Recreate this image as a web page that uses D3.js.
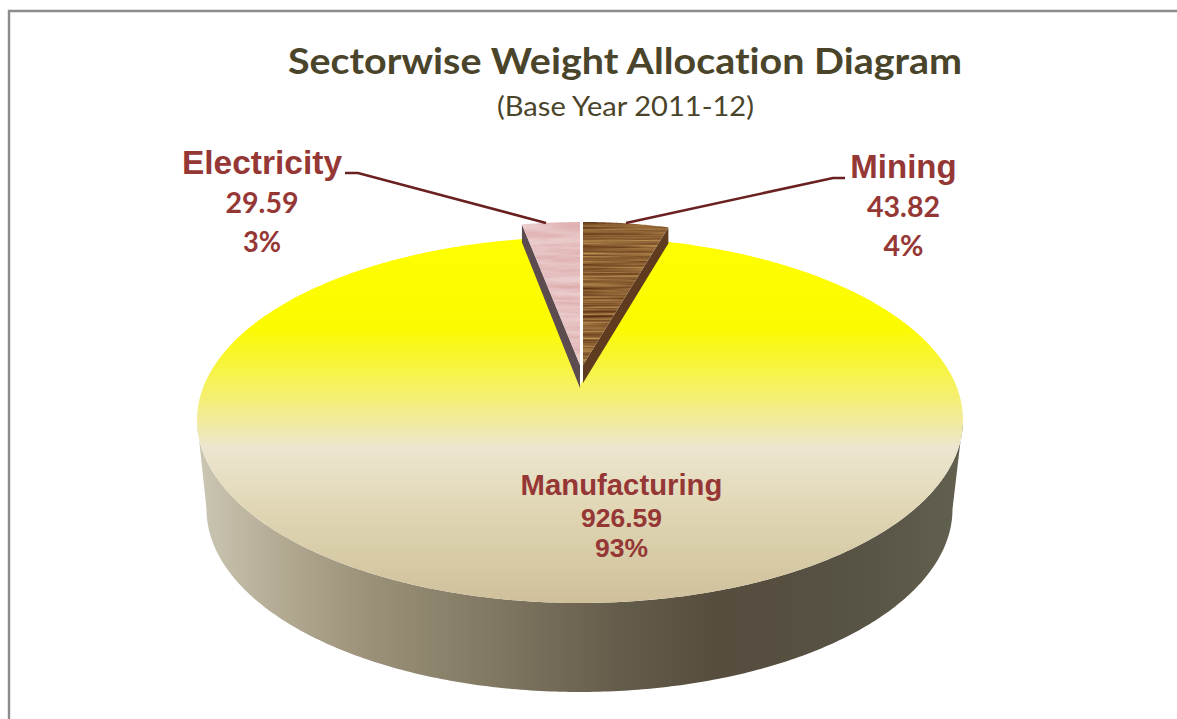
<!DOCTYPE html>
<html><head><meta charset="utf-8">
<script src="https://cdn.jsdelivr.net/npm/d3@7"></script>
<style>html,body{margin:0;padding:0;background:#fff;overflow:hidden}svg{display:block}text{font-variant-ligatures:none}</style>
</head><body><div id="chart"></div>
<script>
const categories = ["Mining","Manufacturing","Electricity"];
const weights = [43.82,926.59,29.59];
const W=1177,H=719;
const svg=d3.select("#chart").append("svg").attr("width",W).attr("height",H);
const defs=svg.append("defs");

function linGrad(id,x1,y1,x2,y2,stops){
  const g=defs.append("linearGradient").attr("id",id).attr("gradientUnits","userSpaceOnUse")
    .attr("x1",x1).attr("y1",y1).attr("x2",x2).attr("y2",y2);
  stops.forEach(s=>g.append("stop").attr("offset",s[0]).attr("stop-color",s[1]));
}
linGrad("topGrad",0,237,0,603,[[0,"#ffff00"],[0.25,"#fbfa00"],[0.43,"#f5f06e"],[0.52,"#f0eaa8"],[0.575,"#ece6d0"],[0.75,"#e0d6b4"],[1,"#cfc09a"]]);
linGrad("wallGrad",197,0,962,0,[[0,"#cbc7b4"],[0.1,"#b5ac95"],[0.22,"#9c927a"],[0.4,"#7e7660"],[0.55,"#655d4b"],[0.68,"#564d3e"],[0.85,"#565244"],[1,"#62604f"]]);

function texture(id,freq,seed,octaves,rm,gm,bm){
  const f=defs.append("filter").attr("id",id).attr("x",0).attr("y",0).attr("width",1).attr("height",1)
    .attr("color-interpolation-filters","sRGB");
  f.append("feTurbulence").attr("type","fractalNoise").attr("baseFrequency",freq).attr("numOctaves",octaves).attr("seed",seed).attr("result","n");
  f.append("feColorMatrix").attr("in","n").attr("type","matrix")
    .attr("values",`${rm[0]} 0 0 0 ${rm[1]} ${gm[0]} 0 0 0 ${gm[1]} ${bm[0]} 0 0 0 ${bm[1]} 0 0 0 0 1`).attr("result","c");
  f.append("feComposite").attr("in","c").attr("in2","SourceAlpha").attr("operator","in");
}
texture("wood","0.008 0.45",4,3,[0.6,0.25],[0.6,0.08],[0.4,0.0]);
texture("pink","0.02 0.18",7,3,[0.08,0.86],[0.2,0.65],[0.2,0.65]);

const pie=d3.pie().value(d=>d.v).sort(null).startAngle(0).endAngle(2*Math.PI);
const arcs=pie(categories.map((c,i)=>({c,v:weights[i]})));

const line=d3.line().curve(d3.curveLinear);
const body={cx:580,cy:420,rx:383,ry:183,apexY:385,notch:0.8};
const base={cx:579.5,cy:509,rx:373,ry:183};
const P=(e,a)=>[e.cx+e.rx*Math.sin(a),e.cy-e.ry*Math.cos(a)];
const sweep=(e,a0,a1,n=240)=>d3.range(n+1).map(i=>P(e,a0+(a1-a0)*i/n));

const mining=arcs[0],manu=arcs[1],elec=arcs[2];
// side wall
const wallTop=sweep(body,Math.PI/2,Math.PI*1.5);
const wallBot=sweep(base,Math.PI*1.5,Math.PI/2);
svg.append("path").attr("d",line([...wallTop,...wallBot])+"Z").attr("fill","url(#wallGrad)");

// main slice
const a0=mining.endAngle*body.notch, a1=2*Math.PI-(2*Math.PI-manu.endAngle)*body.notch;
svg.append("path").attr("d",line([[body.cx,body.apexY],...sweep(body,a0,a1,400)])+"Z").attr("fill","url(#topGrad)");

// exploded slices
const wedge={rx:314,ry:143};
function slice(d,o){
  const e={cx:o.x,cy:o.y,rx:wedge.rx,ry:wedge.ry};
  const pts=sweep(e,d.startAngle<Math.PI?d.startAngle:d.startAngle-2*Math.PI,d.endAngle<=Math.PI?d.endAngle:d.endAngle-2*Math.PI,40);
  const outer=pts[o.cornerIndex(pts)];
  const apex=[o.x,o.y];
  svg.append("path").attr("d",line([outer,apex,[apex[0],apex[1]+o.d1],[outer[0],outer[1]+o.d0]])+"Z").attr("fill",o.wall);
  svg.append("path").attr("d",line([apex,...pts])+"Z").attr("fill","#fff").attr("filter",`url(#${o.tex})`);
}
slice(elec,{x:580,y:365,d0:18,d1:23,wall:"#5c4c50",tex:"pink",cornerIndex:()=>0});
slice(mining,{x:583,y:365,d0:16,d1:18,wall:"#5f3c1f",tex:"wood",cornerIndex:p=>p.length-1});

// leader lines
const leaders=[[[345,173],[358,173],[546,223]],[[845,178],[833,178],[626,223]]];
leaders.forEach(l=>svg.append("path").attr("d",line(l)).attr("fill","none").attr("stroke","#6a2020").attr("stroke-width",2.6));

// frame
svg.append("path").attr("d","M9,719V11H1177").attr("fill","none").attr("stroke","#8c8c8c").attr("stroke-width",2.4);

// text
const T=(t,x,y,size,fam,weight,fill,len)=>{
  const s=svg.append("text").text(t).attr("x",x).attr("y",y).attr("text-anchor","middle")
  .attr("font-family",fam).attr("font-size",size).attr("font-weight",weight).attr("fill",fill);
  if(len) s.attr("textLength",len).attr("lengthAdjust","spacingAndGlyphs");
  return s;
};
const red="#953735",arial="'Liberation Sans',Arial,sans-serif",cal="Lato,'Open Sans',sans-serif";
T("Sectorwise Weight Allocation Diagram",625,74,37,cal,700,"#4a452a",674);
T("(Base Year 2011-12)",625.5,116,26,cal,400,"#4a452a",257);
const pct=d3.format(".0%"),num=d3.format(".2f");
const total=d3.sum(weights);
const placed=[
 {i:2,x:262,y:[174,213,252],s:33.5,s2:28,f2:cal,nl:73,pl:38},
 {i:0,x:903.5,y:[178,217,256],s:33,s2:28,f2:cal,nl:73,pl:40},
 {i:1,x:621.5,y:[495,527,557],s:29.3,s2:26.5,f2:arial}];
placed.forEach(p=>{
  T(categories[p.i],p.x,p.y[0],p.s,arial,700,red);
  T(num(weights[p.i]),p.x,p.y[1],p.s2,p.f2,700,red,p.nl);
  T(pct(weights[p.i]/total),p.x,p.y[2],p.s2,p.f2,700,red,p.pl);
});
</script></body></html>
